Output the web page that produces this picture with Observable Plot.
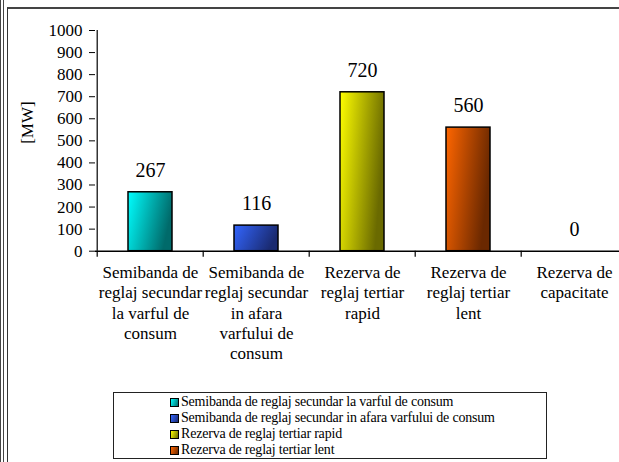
<!DOCTYPE html>
<html><head><meta charset="utf-8">
<script src="https://cdn.jsdelivr.net/npm/d3@7"></script>
<script src="https://cdn.jsdelivr.net/npm/@observablehq/plot@0.6"></script>
<style>
html,body{margin:0;padding:0;background:#fff;width:619px;height:462px;overflow:hidden;}
#wrap{position:relative;width:619px;height:462px;overflow:hidden;}
#outer{position:absolute;left:0;top:0;width:2px;height:470px;border-left:1px solid #444;border-right:1px solid #444;}
#inner{position:absolute;left:7px;top:7px;width:620px;height:470px;border-left:1px solid #333;border-top:2px solid #444;}
#chart{position:absolute;left:0;top:0;}
#chart svg, #chart svg text{font-family:"Liberation Serif","Times New Roman","DejaVu Serif",serif !important;}
#legend{position:absolute;left:113px;top:392px;width:432px;height:64px;border:1.5px solid #222;overflow:hidden;
  font-family:"Liberation Serif","Times New Roman","DejaVu Serif",serif;font-size:14px;line-height:16px;color:#000;padding-top:1px;box-sizing:content-box;letter-spacing:-0.2px;}
.item{margin-left:56px;white-space:nowrap;display:flex;align-items:center;}
.sw{width:7px;height:7px;border:1px solid #000;margin-right:2px;flex:none;}
</style></head><body>
<div id="wrap">
  <div id="outer"></div>
  <div id="inner"></div>
  <div id="chart"></div>
  <div id="legend"></div>
</div>
<script>
// ---- data ----
const categories = [
  "Semibanda de reglaj secundar la varful de consum",
  "Semibanda de reglaj secundar in afara varfului de consum",
  "Rezerva de reglaj tertiar rapid",
  "Rezerva de reglaj tertiar lent",
  "Rezerva de capacitate"
];
const values = [267, 116, 720, 560, 0];
const xTickLabels = [
  "Semibanda de\nreglaj secundar\nla varful de\nconsum",
  "Semibanda de\nreglaj secundar\nin afara\nvarfului de\nconsum",
  "Rezerva de\nreglaj tertiar\nrapid",
  "Rezerva de\nreglaj tertiar\nlent",
  "Rezerva de\ncapacitate"
];
const yTicks = [0, 100, 200, 300, 400, 500, 600, 700, 800, 900, 1000];
const legendLabels = [
  "Semibanda de reglaj secundar la varful de consum",
  "Semibanda de reglaj secundar in afara varfului de consum",
  "Rezerva de reglaj tertiar rapid",
  "Rezerva de reglaj tertiar lent"
];
const yTitle = "[MW]";

// ---- styles ----
const palette = [
  ["#00FFFF", "#006A6A"],
  ["#3366FF", "#1A2A70"],
  ["#FFFF00", "#6A6A00"],
  ["#FF6600", "#6A2800"],
  ["#999999", "#333333"]
];
const FONT = '"Liberation Serif","Times New Roman","DejaVu Serif",serif';

const W = 619, H = 380, mL = 95, mR = -9, mT = 30, mB = 129.3;
const bw = (W - mL - mR) / categories.length;
const data = categories.map((c, i) => ({cat: c, val: values[i]}));

const plot = Plot.plot({
  width: W, height: H,
  marginLeft: mL, marginRight: mR, marginTop: mT, marginBottom: mB,
  style: {fontFamily: FONT, color: "#000", background: "transparent"},
  x: {domain: categories, padding: 0},
  y: {domain: [0, 1000]},
  color: {domain: categories, range: categories.map((c, i) => `url(#grad${i})`)},
  marks: [
    Plot.barY(data, {x: "cat", y: "val", fill: "cat", stroke: "#000", strokeWidth: 1.5, insetLeft: 31, insetRight: 31}),
    Plot.ruleY([0], {stroke: "#000", strokeWidth: 1.5}),
    Plot.ruleX([categories[0]], {x: d => d, y1: 0, y2: 1000, dx: -bw / 2, stroke: "#000", strokeWidth: 1.2}),
    Plot.ruleX(categories, {x: d => d, y1: 0, y2: -27, dx: -bw / 2, stroke: "#000", strokeWidth: 1.2}),
    Plot.axisY({ticks: yTicks, tickSize: 6, tickPadding: 7, fontSize: 17, label: null, tickFormat: d => String(d)}),
    Plot.axisX({tickSize: 0, tickPadding: 13, fontSize: 17, lineHeight: 1.18, label: null,
      tickFormat: d => xTickLabels[categories.indexOf(d)]}),
    Plot.text(data, {x: "cat", y: "val", text: d => String(d.val), dy: -22, fontSize: 20}),
    Plot.text([yTitle], {frameAnchor: "left", dx: -68, dy: 3, rotate: -90, fontSize: 17})
  ]
});

const ns = "http://www.w3.org/2000/svg";
const defs = document.createElementNS(ns, "defs");
palette.forEach(([a, b], i) => {
  const g = document.createElementNS(ns, "linearGradient");
  g.setAttribute("id", `grad${i}`);
  g.setAttribute("x1", "0"); g.setAttribute("y1", "0");
  g.setAttribute("x2", "1"); g.setAttribute("y2", "0.3");
  [[0, a], [1, b]].forEach(([o, c]) => {
    const s = document.createElementNS(ns, "stop");
    s.setAttribute("offset", o); s.setAttribute("stop-color", c);
    g.appendChild(s);
  });
  defs.appendChild(g);
});
plot.insertBefore(defs, plot.firstChild);
plot.querySelectorAll("text, g").forEach(el => el.setAttribute("font-family", FONT));
document.getElementById("chart").appendChild(plot);

const legend = document.getElementById("legend");
legendLabels.forEach((l, i) => {
  const it = document.createElement("div");
  it.className = "item";
  const sw = document.createElement("span");
  sw.className = "sw";
  sw.style.background = `linear-gradient(110deg, ${palette[i][0]}, ${palette[i][1]})`;
  const t = document.createElement("span");
  t.textContent = l;
  it.appendChild(sw); it.appendChild(t);
  legend.appendChild(it);
});
</script>
</body></html>
